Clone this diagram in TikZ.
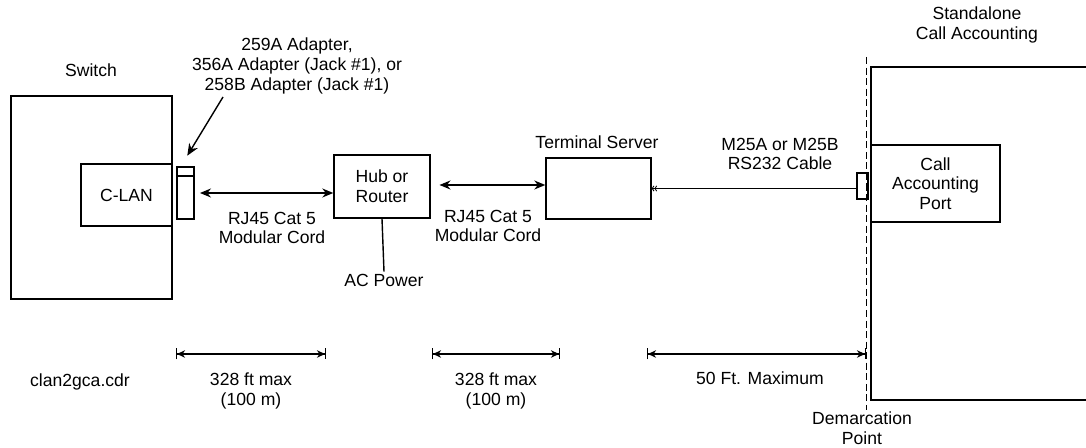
\documentclass[tikz,border=0pt]{standalone}
\usepackage{fontspec}
\setmainfont{Liberation Sans}
\usepackage{tikz}
\usetikzlibrary{positioning,arrows.meta}

\begin{document}
\begin{tikzpicture}[
    x=0.02cm, y=-0.02cm,
    font=\fontsize{10}{11.2}\selectfont,
    box/.style={rectangle, draw, line width=0.8pt, inner sep=0pt, align=center},
    lbl/.style={align=center, inner sep=1pt},
    arrow/.style={{Stealth[length=2.2mm,width=1.8mm]}-{Stealth[length=2.2mm,width=1.8mm]}, line width=0.8pt},
    dim/.style={{Bar[width=2.2mm]Stealth[length=1.6mm,width=1.5mm]}-{Stealth[length=1.6mm,width=1.5mm]Bar[width=2.2mm]}, line width=0.6pt},
]
    \useasboundingbox (0,0) rectangle (1086,448);

    % Switch side
    \node[lbl] (switchlbl) at (91,70) {Switch};
    \node[box, minimum width=3.22cm, minimum height=4.06cm] (switch) at (91.5,197.5) {};
    \node[box, minimum width=1.82cm, minimum height=1.24cm] (clan) at (126.5,195) {C-LAN};
    \node[box, minimum width=0.34cm, minimum height=1.04cm] (adapter) at (185.5,193) {};
    \node[box, minimum width=0.34cm, minimum height=0.18cm, anchor=north] (adaptercap) at (adapter.north) {};

    % Adapter callout
    \node[lbl] (adapterlbl) at (297,66) {259A Adapter,\\356A Adapter (Jack \#1), or\\258B Adapter (Jack \#1)};
    \coordinate (calloutstart) at (223,97);
    \draw[-{Stealth[length=2.4mm,width=2mm]}, line width=0.8pt] (calloutstart) -- ([xshift=1pt,yshift=6pt]adaptercap.north);

    % Hub or router
    \node[box, minimum width=1.92cm, minimum height=1.26cm] (hub) at (382,186.5) {Hub or\\Router};
    \node[lbl] (acpower) at (384,280) {AC Power};
    \draw[line width=0.8pt] (hub.south) -- (acpower.north);
    \draw[arrow, shorten <=3pt] (adapter.east) -- (adapter.east -| hub.west);
    \node[lbl] (cord1) at (272,228) {RJ45 Cat 5\\Modular Cord};

    % Terminal server
    \node[lbl] (tslbl) at (597,142) {Terminal Server};
    \node[box, minimum width=2.1cm, minimum height=1.22cm] (tserver) at (598.5,188.5) {};
    \coordinate (hubout) at ([yshift=0.03cm]hub.east);
    \draw[arrow, shorten <=5pt] (hubout) -- (hubout -| tserver.west);
    \node[lbl] (cord2) at (488,226) {RJ45 Cat 5\\Modular Cord};

    % Standalone call accounting
    \node[lbl] (calbl) at (977,25) {Standalone\\Call Accounting};
    \draw[line width=0.8pt] (1090,67) -- (871,67) -- (871,400) -- (1090,400);
    \node[box, minimum width=2.58cm, minimum height=1.54cm] (port) at (935.5,183.5) {Call\\Accounting\\Port};
    \node[box, line width=0.6pt, minimum width=0.22cm, minimum height=0.52cm] (plug) at (862.5,186) {};
    \draw[{Straight Barb[length=1pt,width=3pt]Straight Barb[length=1pt,width=3pt]}-, line width=0.5pt] (tserver.east) -- (tserver.east -| plug.west);
    \node[lbl] (cable) at (780,154) {M25A or M25B\\RS232 Cable};

    % Demarcation
    \coordinate (demtop) at (866,57);
    \coordinate (dembot) at (866,410);
    \draw[dashed, dash pattern=on 4pt off 2pt, line width=0.5pt] (demtop) -- (dembot);
    \node[lbl, inner sep=0pt] (demlbl) at (862,428) {Demarcation\\Point};

    % Distances
    \node[lbl] (file) at (80,382) {clan2gca.cdr};
    \coordinate (d1a) at (176,354);
    \coordinate (d1b) at (326,354);
    \coordinate (d2a) at (432,354);
    \coordinate (d2b) at (560,354);
    \coordinate (d3a) at (647,354);
    \coordinate (d3b) at (866,354);
    \draw[dim] (d1a) -- (d1b);
    \draw[dim] (d2a) -- (d2b);
    \draw[dim] (d3a) -- (d3b);
    \node[lbl] (dist1) at (251,391) {328 ft max\\(100 m)};
    \node[lbl] (dist2) at (496,391) {328 ft max\\(100 m)};
    \node[lbl] (dist3) at (760,378) {50 Ft. Maximum};
\end{tikzpicture}
\end{document}
